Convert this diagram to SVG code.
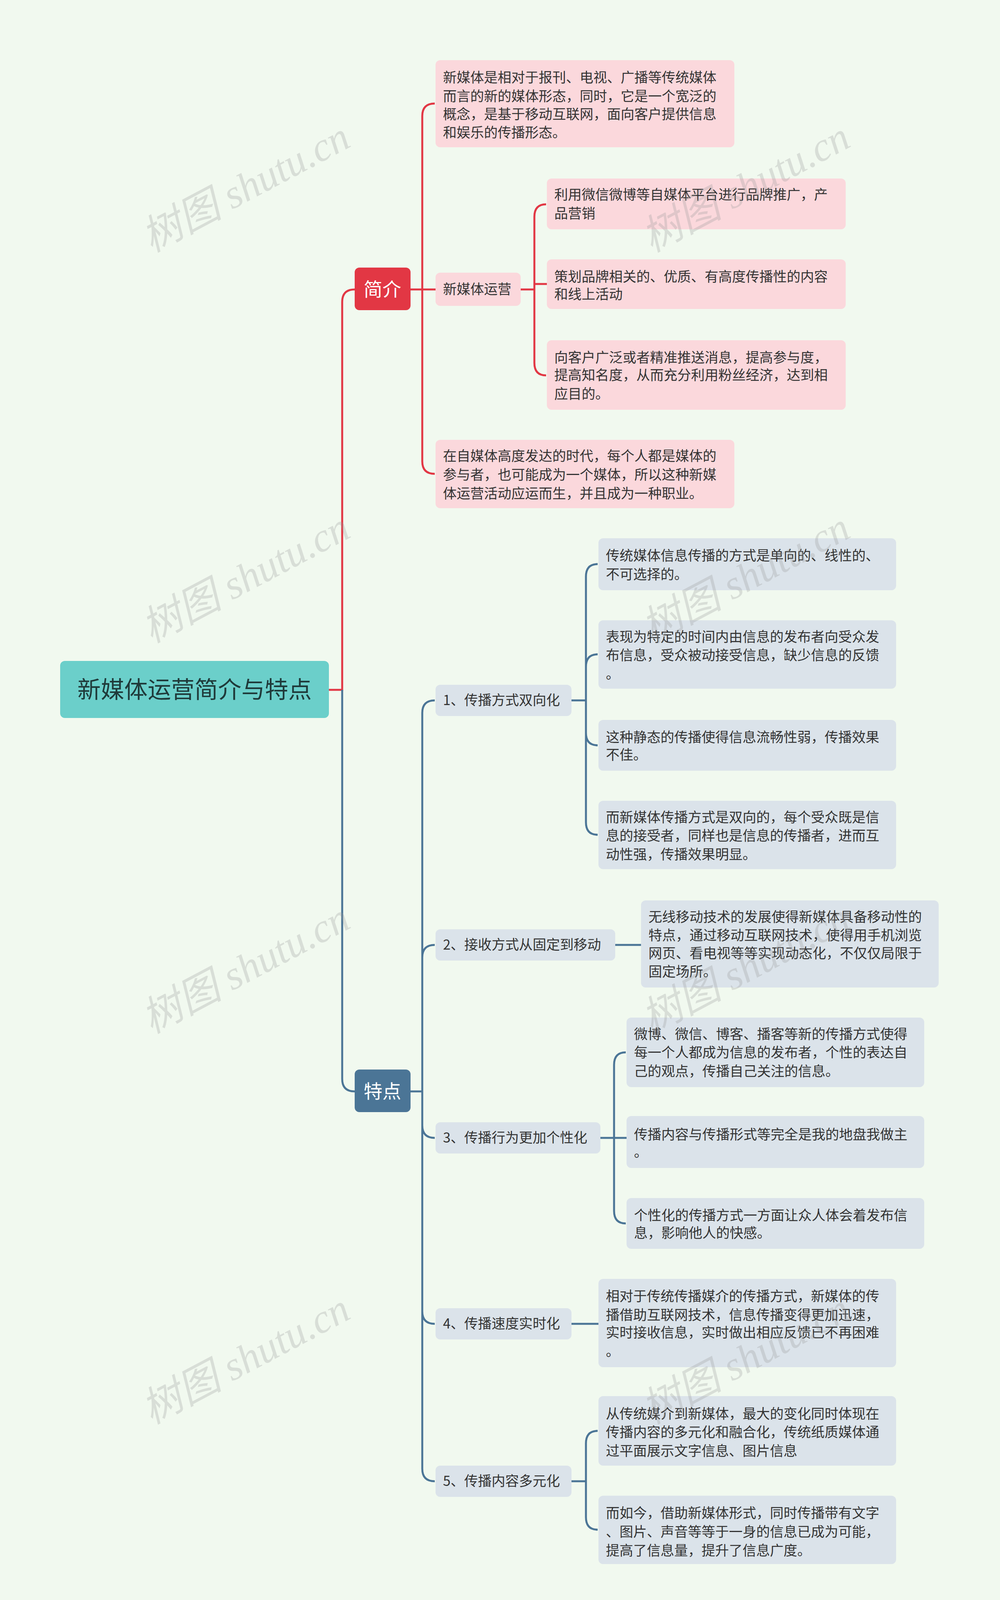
<svg xmlns="http://www.w3.org/2000/svg" width="2560" height="4163" viewBox="0 0 2560 4163">
<style>
text{font-family:"Noto Sans CJK SC","Noto Sans",sans-serif;}
.t{font-size:35px;fill:#333;}
.pk{fill:#fbd8dc;}
.bl{fill:#dbe3ea;}
.r{fill:none;stroke:#e23744;stroke-width:5;}
.b{fill:none;stroke:#4b7596;stroke-width:5;}
.wm{font-size:104px;fill:#9a9a9a;opacity:0.28;font-family:"Liberation Serif","Noto Sans CJK SC",serif;font-style:italic;}
</style>
<rect width="2560" height="4163" fill="#f1f9ef"/>
<g id="connectors">
<path class="r" d="M842,1766 H876 V773 Q876,741 908,741"/>
<path class="b" d="M876,1766 V2762 Q876,2794 908,2794"/>
<path class="r" d="M1051,741 H1115 M1081,741 V297 Q1081,265 1113,265 M1081,741 V1181 Q1081,1213 1113,1213"/>
<path class="r" d="M1333,741 H1368 M1368,741 V555 Q1368,523 1398,523 M1368,741 V727 H1400 M1368,741 V929 Q1368,961 1398,961"/>
<path class="b" d="M1051,2794 H1081 M1081,2794 V1825 Q1081,1793 1113,1793 M1081,2794 V2451 Q1081,2419 1113,2419 M1081,2794 V2881 Q1081,2913 1113,2913 M1081,2794 V3357 Q1081,3389 1113,3389 M1081,2794 V3760 Q1081,3792 1113,3792"/>
<path class="b" d="M1463,1793 H1500 M1500,1793 V1476 Q1500,1444 1530,1444 M1500,1793 V1707 Q1500,1675 1530,1675 M1500,1793 V1876 Q1500,1908 1530,1908 M1500,1793 V2105 Q1500,2137 1530,2137"/>
<path class="b" d="M1575,2419 H1641"/>
<path class="b" d="M1537,2913 H1572 M1572,2913 V2726 Q1572,2694 1602,2694 M1572,2913 H1604 M1572,2913 V3100 Q1572,3132 1602,3132"/>
<path class="b" d="M1463,3389 H1532"/>
<path class="b" d="M1463,3792 H1500 M1500,3792 V3695 Q1500,3663 1530,3663 M1500,3792 V3884 Q1500,3916 1530,3916"/>
</g>
<g id="root"><rect x="154" y="1692" width="688" height="146" rx="12" fill="#6bcfca"/><text x="498" y="1787" font-size="60" fill="#1f3a3a" text-anchor="middle">新媒体运营简介与特点</text></g>
<g id="jianjie"><rect x="908" y="685" width="143" height="109" rx="12" fill="#e23744"/><text x="979" y="758" font-size="48" fill="#fff" text-anchor="middle">简介</text></g>
<g id="tedian"><rect x="908" y="2738" width="143" height="109" rx="12" fill="#4b7596"/><text x="979" y="2811" font-size="48" fill="#fff" text-anchor="middle">特点</text></g>
<g id="n1"><rect class="pk" x="1115" y="154" width="765" height="223" rx="12"/><text class="t" x="1134"><tspan x="1134" y="211">新媒体是相对于报刊、电视、广播等传统媒体</tspan><tspan x="1134" y="259">而言的新的媒体形态，同时，它是一个宽泛的</tspan><tspan x="1134" y="305">概念，是基于移动互联网，面向客户提供信息</tspan><tspan x="1134" y="352">和娱乐的传播形态。</tspan></text></g>
<g id="n2"><rect class="pk" x="1115" y="698" width="218" height="85" rx="12"/><text class="t" x="1134" y="753">新媒体运营</text></g>
<g id="n2a"><rect class="pk" x="1400" y="457" width="765" height="130" rx="12"/><text class="t"><tspan x="1419" y="511">利用微信微博等自媒体平台进行品牌推广，产</tspan><tspan x="1419" y="559">品营销</tspan></text></g>
<g id="n2b"><rect class="pk" x="1400" y="664" width="765" height="127" rx="12"/><text class="t"><tspan x="1419" y="721">策划品牌相关的、优质、有高度传播性的内容</tspan><tspan x="1419" y="766">和线上活动</tspan></text></g>
<g id="n2c"><rect class="pk" x="1400" y="871" width="765" height="178" rx="12"/><text class="t"><tspan x="1419" y="928">向客户广泛或者精准推送消息，提高参与度，</tspan><tspan x="1419" y="973">提高知名度，从而充分利用粉丝经济，达到相</tspan><tspan x="1419" y="1021">应目的。</tspan></text></g>
<g id="n3"><rect class="pk" x="1115" y="1126" width="765" height="175" rx="12"/><text class="t"><tspan x="1134" y="1180">在自媒体高度发达的时代，每个人都是媒体的</tspan><tspan x="1134" y="1228">参与者，也可能成为一个媒体，所以这种新媒</tspan><tspan x="1134" y="1276">体运营活动应运而生，并且成为一种职业。</tspan></text></g>
<g id="f1"><rect class="bl" x="1115" y="1753" width="348" height="80" rx="12"/><text class="t" x="1134" y="1805">1、传播方式双向化</text></g>
<g id="f1a"><rect class="bl" x="1532" y="1378" width="762" height="133" rx="12"/><text class="t"><tspan x="1551" y="1435">传统媒体信息传播的方式是单向的、线性的、</tspan><tspan x="1551" y="1483">不可选择的。</tspan></text></g>
<g id="f1b"><rect class="bl" x="1532" y="1588" width="762" height="175" rx="12"/><text class="t"><tspan x="1551" y="1643">表现为特定的时间内由信息的发布者向受众发</tspan><tspan x="1551" y="1690">布信息，受众被动接受信息，缺少信息的反馈</tspan><tspan x="1551" y="1738">。</tspan></text></g>
<g id="f1c"><rect class="bl" x="1532" y="1843" width="762" height="130" rx="12"/><text class="t"><tspan x="1551" y="1900">这种静态的传播使得信息流畅性弱，传播效果</tspan><tspan x="1551" y="1945">不佳。</tspan></text></g>
<g id="f1d"><rect class="bl" x="1532" y="2050" width="762" height="175" rx="12"/><text class="t"><tspan x="1551" y="2105">而新媒体传播方式是双向的，每个受众既是信</tspan><tspan x="1551" y="2152">息的接受者，同样也是信息的传播者，进而互</tspan><tspan x="1551" y="2200">动性强，传播效果明显。</tspan></text></g>
<g id="f2"><rect class="bl" x="1115" y="2379" width="460" height="80" rx="12"/><text class="t" x="1134" y="2431">2、接收方式从固定到移动</text></g>
<g id="f2a"><rect class="bl" x="1641" y="2305" width="762" height="223" rx="12"/><text class="t"><tspan x="1660" y="2360">无线移动技术的发展使得新媒体具备移动性的</tspan><tspan x="1660" y="2407">特点，通过移动互联网技术，使得用手机浏览</tspan><tspan x="1660" y="2453">网页、看电视等等实现动态化，不仅仅局限于</tspan><tspan x="1660" y="2500">固定场所。</tspan></text></g>
<g id="f3"><rect class="bl" x="1115" y="2873" width="422" height="80" rx="12"/><text class="t" x="1134" y="2925">3、传播行为更加个性化</text></g>
<g id="f3a"><rect class="bl" x="1604" y="2605" width="762" height="178" rx="12"/><text class="t"><tspan x="1623" y="2660">微博、微信、博客、播客等新的传播方式使得</tspan><tspan x="1623" y="2707">每一个人都成为信息的发布者，个性的表达自</tspan><tspan x="1623" y="2755">己的观点，传播自己关注的信息。</tspan></text></g>
<g id="f3b"><rect class="bl" x="1604" y="2857" width="762" height="133" rx="12"/><text class="t"><tspan x="1623" y="2917">传播内容与传播形式等完全是我的地盘我做主</tspan><tspan x="1623" y="2962">。</tspan></text></g>
<g id="f3c"><rect class="bl" x="1604" y="3067" width="762" height="130" rx="12"/><text class="t"><tspan x="1623" y="3124">个性化的传播方式一方面让众人体会着发布信</tspan><tspan x="1623" y="3169">息，影响他人的快感。</tspan></text></g>
<g id="f4"><rect class="bl" x="1115" y="3349" width="348" height="80" rx="12"/><text class="t" x="1134" y="3401">4、传播速度实时化</text></g>
<g id="f4a"><rect class="bl" x="1532" y="3274" width="762" height="226" rx="12"/><text class="t"><tspan x="1551" y="3331">相对于传统传播媒介的传播方式，新媒体的传</tspan><tspan x="1551" y="3379">播借助互联网技术，信息传播变得更加迅速，</tspan><tspan x="1551" y="3424">实时接收信息，实时做出相应反馈已不再困难</tspan><tspan x="1551" y="3472">。</tspan></text></g>
<g id="f5"><rect class="bl" x="1115" y="3752" width="348" height="80" rx="12"/><text class="t" x="1134" y="3804">5、传播内容多元化</text></g>
<g id="f5a"><rect class="bl" x="1532" y="3574" width="762" height="178" rx="12"/><text class="t"><tspan x="1551" y="3632">从传统媒介到新媒体，最大的变化同时体现在</tspan><tspan x="1551" y="3679">传播内容的多元化和融合化，传统纸质媒体通</tspan><tspan x="1551" y="3727">过平面展示文字信息、图片信息</tspan></text></g>
<g id="f5b"><rect class="bl" x="1532" y="3829" width="762" height="175" rx="12"/><text class="t"><tspan x="1551" y="3886">而如今，借助新媒体形式，同时传播带有文字</tspan><tspan x="1551" y="3934">、图片、声音等等于一身的信息已成为可能，</tspan><tspan x="1551" y="3982">提高了信息量，提升了信息广度。</tspan></text></g>
<g id="watermarks">
<text class="wm" transform="translate(645,510) rotate(-28)" text-anchor="middle">树图 shutu.cn</text>
<text class="wm" transform="translate(645,1510) rotate(-28)" text-anchor="middle">树图 shutu.cn</text>
<text class="wm" transform="translate(645,2510) rotate(-28)" text-anchor="middle">树图 shutu.cn</text>
<text class="wm" transform="translate(645,3510) rotate(-28)" text-anchor="middle">树图 shutu.cn</text>
<text class="wm" transform="translate(1925,510) rotate(-28)" text-anchor="middle">树图 shutu.cn</text>
<text class="wm" transform="translate(1925,1510) rotate(-28)" text-anchor="middle">树图 shutu.cn</text>
<text class="wm" transform="translate(1925,2510) rotate(-28)" text-anchor="middle">树图 shutu.cn</text>
<text class="wm" transform="translate(1925,3510) rotate(-28)" text-anchor="middle">树图 shutu.cn</text>
</g>
</svg>
